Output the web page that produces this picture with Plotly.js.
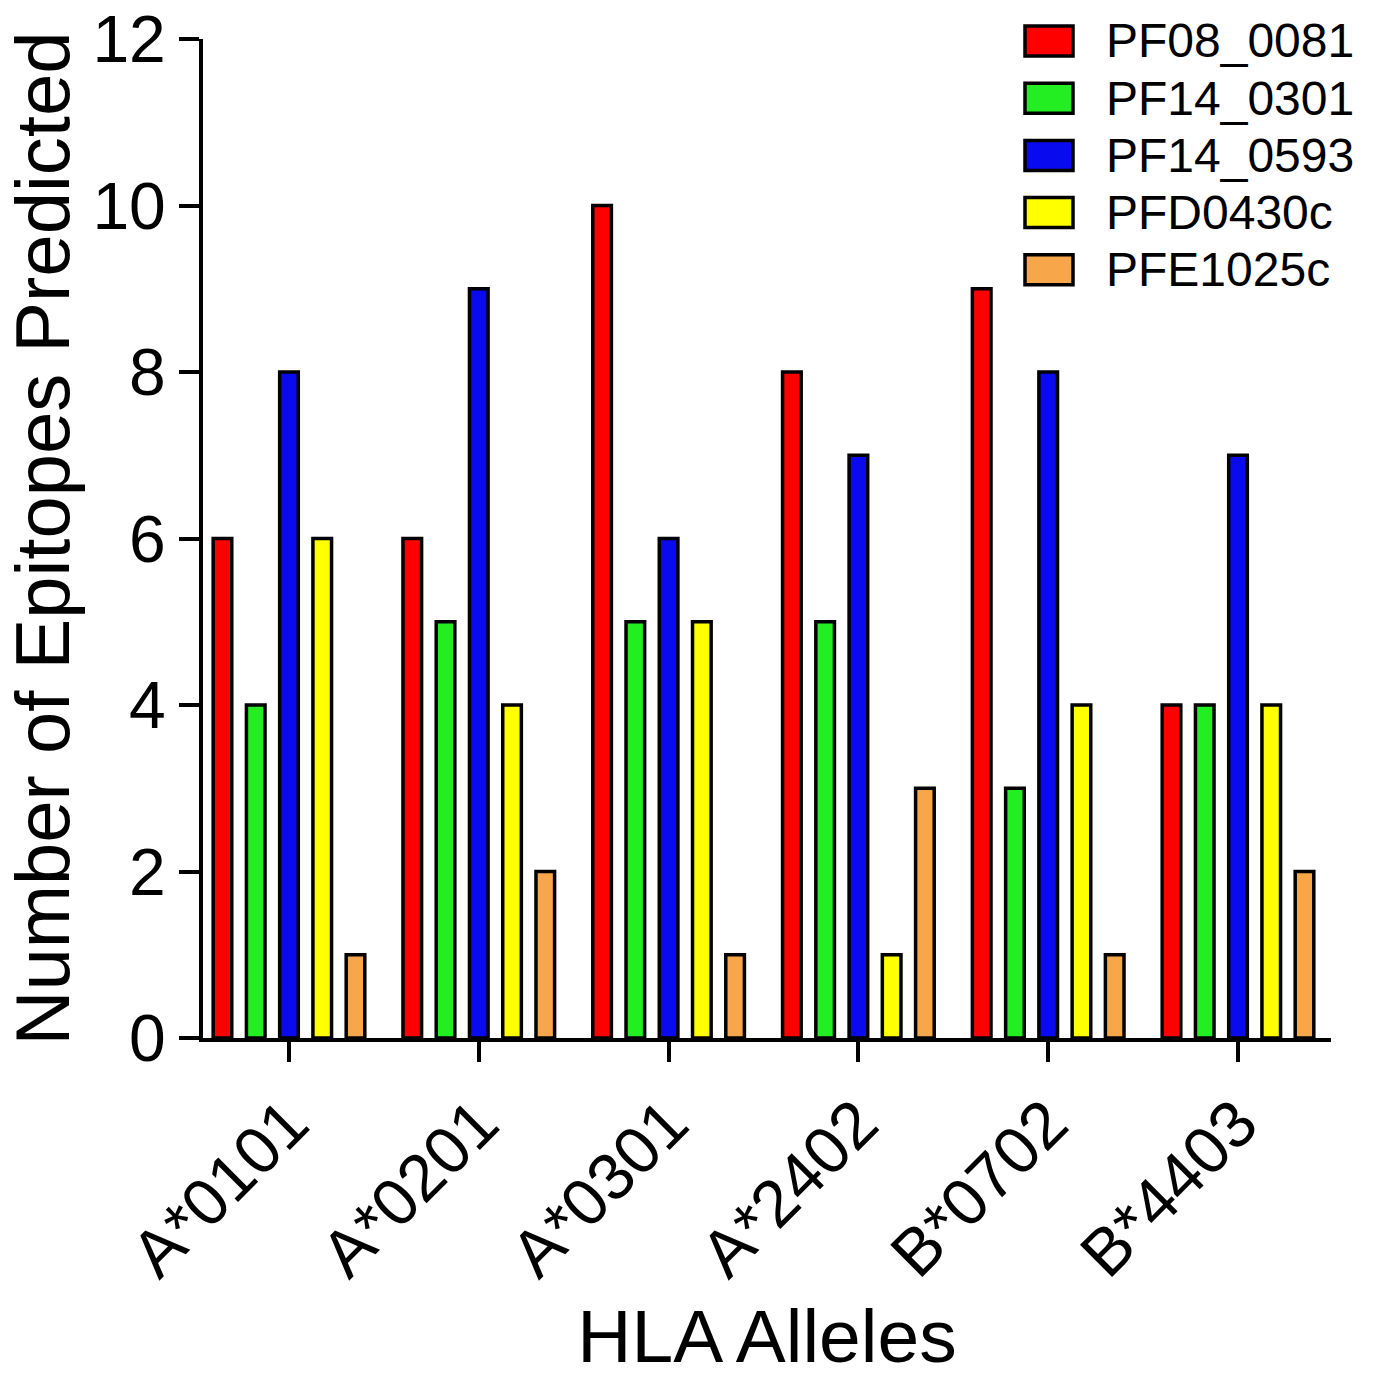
<!DOCTYPE html>
<html>
<head>
<meta charset="utf-8">
<script src="https://cdn.plot.ly/plotly-3.0.1.min.js"></script>
<style>html,body{margin:0;padding:0;background:#fff;}#chart{width:1378px;height:1378px;}</style>
</head>
<body>
<div id="chart"></div>
<script>
const alleles = ["A*0101", "A*0201", "A*0301", "A*2402", "B*0702", "B*4403"];
const seriesNames = ["PF08_0081", "PF14_0301", "PF14_0593", "PFD0430c", "PFE1025c"];
const PF08_0081 = [6, 6, 10, 8, 9, 4];
const PF14_0301 = [4, 5, 5, 5, 3, 4];
const PF14_0593 = [8, 9, 6, 7, 8, 7];
const PFD0430c  = [6, 4, 5, 1, 4, 4];
const PFE1025c  = [1, 2, 1, 3, 1, 2];
const seriesValues = [PF08_0081, PF14_0301, PF14_0593, PFD0430c, PFE1025c];
const seriesColors = ["#ff0000", "#22ee22", "#0a0aee", "#ffff00", "#f8a64a"];
const yTicks = [0, 2, 4, 6, 8, 10, 12];

const FONT = "Liberation Sans, Arial, Helvetica, sans-serif";

const traces = seriesNames.map((name, i) => ({
  type: "bar",
  name: name,
  x: alleles,
  y: seriesValues[i],
  marker: { color: seriesColors[i], line: { color: "#000", width: 3.5 } },
  showlegend: false,
  hoverinfo: "x+y+name"
}));

// Custom legend (large swatches)
const L = 203, R = 1331, T = 39, B = 1038;
const W = R - L, H = B - T;
const px2x = p => (p - L) / W;
const px2y = p => (B - p) / H;
const shapes = [];
const annotations = [];
seriesNames.forEach((name, i) => {
  const cy = 41 + 57.2 * i;
  shapes.push({
    type: "rect", xref: "paper", yref: "paper",
    x0: px2x(1025), x1: px2x(1073), y0: px2y(cy - 15), y1: px2y(cy + 15),
    fillcolor: seriesColors[i], line: { color: "#000", width: 3.5 }
  });
  annotations.push({
    xref: "paper", yref: "paper", x: px2x(1104), y: px2y(cy),
    xanchor: "left", yanchor: "middle", showarrow: false,
    text: name, font: { family: FONT, size: 48, color: "#000" }
  });
});

const layout = {
  width: 1378, height: 1378,
  margin: { l: L, r: 1378 - R, t: T, b: 1378 - B, pad: 0 },
  paper_bgcolor: "#fff", plot_bgcolor: "#fff",
  barmode: "group",
  bargap: 0.124,
  bargroupgap: 0.44,
  font: { family: FONT, color: "#000" },
  xaxis: {
    type: "category",
    range: [-0.453, 5.49],
    showline: true, linecolor: "#000", linewidth: 4,
    ticks: "outside", ticklen: 20, tickwidth: 4, tickcolor: "#000",
    tickangle: -45,
    ticklabelstandoff: -4,
    tickfont: { family: FONT, size: 66, color: "#000" },
    showgrid: false, zeroline: false,
    title: { text: "HLA Alleles", font: { family: FONT, size: 75, color: "#000" }, standoff: 39 }
  },
  yaxis: {
    range: [0, 12],
    tickvals: yTicks,
    ticktext: yTicks.map(String),
    ticklabeloverflow: "allow",
    showline: true, linecolor: "#000", linewidth: 4,
    ticks: "outside", ticklen: 20, tickwidth: 4, tickcolor: "#000",
    tickfont: { family: FONT, size: 66, color: "#000" },
    showgrid: false, zeroline: false,
    title: { text: "Number of Epitopes Predicted", font: { family: FONT, size: 76, color: "#000" }, standoff: 26 }
  },
  shapes: shapes,
  annotations: annotations
};

Plotly.newPlot("chart", traces, layout, { staticPlot: true, displayModeBar: false });
</script>
</body>
</html>
